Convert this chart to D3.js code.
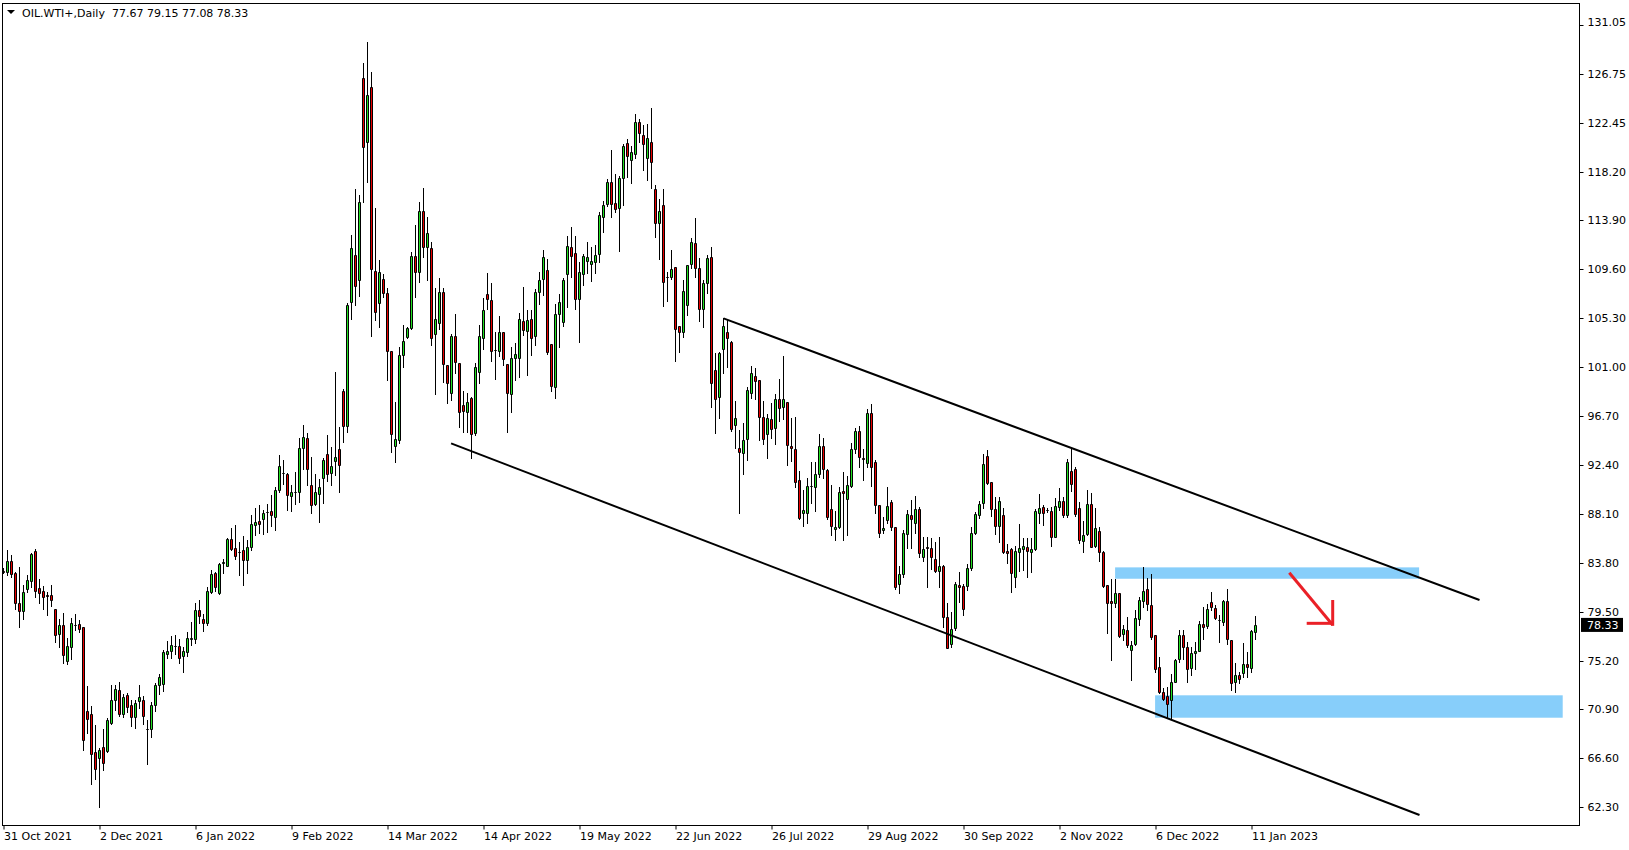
<!DOCTYPE html>
<html><head><meta charset="utf-8">
<script src="https://cdn.jsdelivr.net/npm/d3@7"></script>
<style>
html,body{margin:0;padding:0;background:#fff;overflow:hidden}
svg{display:block}
text{font-family:"DejaVu Sans",sans-serif;font-size:11px;fill:#000}
</style></head><body>
<svg id="chart" width="1629" height="850"></svg>
<script>
const headerText = "OIL.WTI+,Daily  77.67 79.15 77.08 78.33";

const openP = [83.06,82.95,83.91,82.89,80.25,79.58,81.51,82.16,84.79,81.54,
81.28,80.92,80.92,79.69,77.55,78.32,75.18,76.35,78.35,78.37,
78.11,70.75,70.49,67.15,66.65,67.56,67.26,69.73,71.75,72.60,
70.52,72.16,71.28,70.20,71.60,71.69,69.20,69.14,71.25,73.01,
73.10,75.79,76.00,76.44,76.44,75.62,75.91,77.11,77.06,79.61,
78.81,78.46,81.25,82.89,81.16,83.77,83.53,85.85,85.06,84.76,
84.88,84.06,85.14,87.14,87.43,87.67,88.25,88.31,87.84,90.22,
91.71,91.56,89.69,90.04,90.04,93.85,94.73,90.60,88.95,89.86,
91.27,93.32,91.71,92.71,93.76,98.89,95.85,106.75,110.82,108.63,
126.39,120.82,125.60,109.45,106.60,108.74,107.48,102.38,94.09,94.61,
102.03,103.61,104.40,110.74,109.39,114.72,111.59,111.44,103.88,104.90,
107.57,101.18,98.69,103.73,101.39,97.66,97.08,98.25,95.23,100.59,
103.53,107.39,106.90,102.53,102.39,104.06,101.25,98.61,101.83,101.77,
105.06,104.20,105.20,103.77,107.64,108.78,109.51,103.03,99.28,105.64,
104.98,109.22,111.56,111.01,107.02,109.16,110.36,110.04,110.27,110.92,
114.17,115.37,117.31,115.40,114.96,117.60,120.68,119.18,119.74,122.53,
121.38,119.36,120.77,116.63,113.64,115.23,108.95,108.95,109.77,104.61,
104.05,106.43,110.03,111.88,109.71,106.08,108.36,110.65,100.74,98.40,
102.56,104.11,103.20,95.87,93.88,93.41,94.67,98.75,100.21,99.86,
96.58,95.08,96.46,95.67,98.16,97.46,97.96,94.09,93.76,91.07,
88.14,88.14,90.57,90.48,91.57,94.03,91.95,88.49,86.73,86.96,
90.10,89.40,90.57,93.79,95.41,92.97,92.53,96.93,92.62,88.87,
86.68,87.56,89.11,86.91,81.90,82.78,86.29,87.97,87.26,88.49,
84.33,85.15,85.06,84.13,83.07,83.51,79.05,76.65,78.09,81.84,
81.75,81.75,83.31,86.38,87.99,89.02,93.18,90.87,88.52,87.06,
87.99,84.83,85.01,82.57,84.77,85.01,85.18,84.77,84.98,88.20,
88.67,88.44,88.35,86.09,88.67,89.23,87.99,91.89,92.01,88.58,
85.71,86.32,88.93,85.30,86.59,84.71,81.81,80.43,80.22,81.16,
77.52,77.88,76.12,76.62,78.81,80.46,81.45,80.04,77.44,74.59,
72.39,72.07,71.72,73.33,75.30,77.44,76.41,74.56,75.82,76.06,
78.40,78.23,80.37,79.81,78.76,78.61,80.43,76.99,73.33,73.92,
74.07,74.89,74.50,77.67];

const highP = [83.30,84.91,84.47,82.95,83.39,81.80,82.71,84.62,85.00,82.33,
81.75,81.22,81.80,79.72,78.84,79.34,77.14,78.90,79.28,78.76,
78.17,72.95,71.19,69.49,67.53,69.14,70.11,73.01,73.07,73.30,
72.28,72.36,71.72,71.72,73.04,72.07,69.96,71.51,73.19,73.98,
76.12,76.94,77.32,77.41,77.08,76.41,77.70,78.61,80.28,80.51,
79.28,81.66,83.15,82.98,83.80,84.09,85.94,86.82,87.11,85.58,
86.14,85.76,87.99,88.60,88.84,88.43,88.93,89.72,90.48,93.24,
92.80,91.68,90.60,91.74,94.73,95.87,95.20,93.06,91.59,91.15,
93.00,95.00,93.94,100.59,95.76,99.04,106.60,112.61,116.66,116.13,
127.74,129.59,126.95,114.96,110.41,109.15,107.92,102.38,97.96,102.79,
104.70,104.55,111.15,113.49,115.49,116.75,114.17,111.97,107.92,108.80,
107.92,101.18,103.91,105.64,101.39,98.89,98.69,98.40,101.39,104.70,
107.04,109.24,108.36,104.11,105.49,104.06,101.25,102.80,103.09,105.73,
108.08,106.02,106.02,107.84,109.39,111.30,110.51,103.03,106.55,107.40,
108.81,112.53,113.35,112.53,110.27,110.95,112.00,111.59,111.74,114.67,
115.64,117.51,120.09,117.98,117.81,120.62,121.03,120.45,123.26,122.79,
122.29,122.38,123.76,117.02,115.81,116.66,109.39,111.30,109.77,104.61,
108.65,109.97,112.38,114.08,110.56,108.65,110.85,111.53,102.21,102.35,
105.28,105.14,103.32,98.01,95.46,96.11,99.28,101.12,100.89,99.86,
98.04,96.84,97.87,98.60,99.92,102.00,97.96,96.49,96.64,91.89,
90.19,91.21,92.68,92.68,95.08,94.73,92.00,90.63,88.37,90.42,
91.80,91.42,94.29,95.61,95.82,93.76,97.31,97.75,92.83,88.87,
87.85,90.43,89.31,86.91,83.51,86.68,88.43,89.31,89.67,88.73,
86.09,86.03,85.94,85.65,86.09,83.60,80.29,79.49,82.13,82.98,
81.93,83.69,86.97,88.29,89.26,93.36,93.71,90.93,89.61,89.61,
88.58,85.45,85.06,85.27,87.20,85.94,85.94,85.94,88.49,89.81,
88.87,88.58,88.67,89.52,90.34,89.61,92.89,93.86,92.19,89.17,
87.50,90.19,89.96,88.58,86.97,84.86,81.81,82.34,82.33,81.16,
78.32,78.99,76.94,79.63,80.81,83.39,82.42,82.77,77.44,75.47,
72.80,72.89,73.98,75.30,77.88,77.88,76.85,76.41,76.85,78.67,
79.93,80.13,81.25,80.07,79.19,80.51,81.45,76.99,74.94,74.21,
76.70,75.97,77.88,79.15];

const lowP = [82.86,82.71,82.51,79.69,78.17,78.87,81.25,81.69,80.81,80.22,
79.75,79.22,80.02,76.85,76.41,75.00,74.91,75.30,77.88,77.73,
67.32,68.79,64.36,64.80,62.34,65.56,67.15,69.58,70.84,70.34,
70.22,70.66,69.46,69.29,71.02,69.64,66.06,68.50,70.78,72.22,
72.54,75.38,75.38,75.74,74.94,74.21,75.62,76.56,76.70,78.52,
77.82,78.35,81.16,81.33,81.04,82.92,83.50,84.91,84.15,82.74,
81.86,82.92,84.91,86.20,86.43,86.35,86.49,87.05,86.70,90.01,
90.71,88.43,88.37,88.99,89.13,92.03,90.63,88.19,88.87,87.37,
89.04,91.01,90.63,91.51,90.01,94.44,95.32,105.20,106.46,107.28,
115.54,117.24,103.73,105.14,104.55,107.19,99.86,93.56,92.68,94.29,
100.98,103.53,104.32,107.13,108.45,110.65,108.66,102.94,98.60,104.32,
99.72,97.81,98.10,100.45,95.76,95.32,95.32,92.97,95.03,99.57,
102.59,106.08,101.56,99.92,101.98,101.19,95.32,97.08,99.87,100.16,
103.82,100.31,102.07,102.94,106.52,107.31,102.15,98.93,98.25,102.74,
104.62,106.32,108.96,106.11,103.24,108.19,109.25,108.60,109.31,110.27,
112.91,115.17,114.23,114.67,111.24,115.26,117.69,117.22,119.36,120.83,
118.33,117.45,116.72,112.41,110.48,106.40,106.84,108.75,101.57,102.35,
103.67,105.58,109.68,108.95,105.08,104.55,107.48,97.46,95.17,96.55,
100.45,100.97,95.38,93.85,88.19,91.59,92.83,98.25,98.16,94.58,
94.23,93.03,94.79,94.23,96.28,96.40,92.39,92.74,90.42,87.61,
87.02,87.26,89.01,88.37,91.36,91.21,87.61,86.23,85.79,86.82,
85.79,86.23,90.48,93.41,92.24,91.07,92.24,90.54,88.19,86.08,
86.38,87.26,86.68,81.46,81.17,82.57,85.06,85.06,86.38,84.27,
83.98,81.69,83.22,83.01,81.69,78.12,76.27,76.36,77.88,80.37,
79.17,81.40,83.16,86.32,87.70,88.58,90.69,87.91,86.32,85.65,
84.68,83.75,81.25,81.69,83.10,83.16,82.57,83.01,84.92,87.32,
87.12,88.29,85.30,86.03,88.44,87.85,87.85,90.11,87.91,85.50,
84.71,86.24,85.15,85.21,83.98,81.69,77.59,75.24,79.93,77.29,
77.00,76.41,73.48,76.53,78.32,79.93,79.63,77.08,74.21,72.36,
71.72,70.25,70.17,73.27,75.09,75.32,73.33,73.92,74.42,76.03,
77.06,78.02,79.63,78.84,76.79,78.32,76.64,72.60,72.45,73.19,
73.77,73.77,74.21,77.08];

const closeP = [83.00,83.91,82.83,80.22,79.58,81.19,82.24,84.56,81.28,81.16,
80.75,80.90,80.54,77.41,78.32,75.65,76.44,78.49,78.32,77.99,
68.17,70.02,66.94,65.62,67.29,66.15,69.96,71.69,72.66,70.52,
71.98,71.08,70.20,71.46,71.95,70.28,69.17,71.28,73.04,73.74,
75.91,76.00,76.53,76.47,75.38,76.03,77.14,77.14,79.61,79.08,
78.46,81.30,82.77,81.63,83.68,83.83,85.85,85.03,84.41,84.71,
84.06,85.14,87.17,87.34,87.23,88.13,88.22,88.02,90.16,92.27,
91.65,89.78,89.98,89.98,93.85,94.82,92.06,88.90,89.98,90.45,
92.80,91.62,92.27,93.09,92.36,95.85,106.43,111.44,108.10,115.48,
120.38,124.89,109.65,105.87,109.33,107.48,102.38,95.14,94.64,102.06,
103.32,104.40,110.74,109.39,114.72,111.59,112.76,103.53,105.20,107.57,
101.24,99.57,103.73,101.41,97.02,97.16,97.90,95.14,100.98,103.73,
106.02,107.01,102.44,102.50,104.06,101.68,98.70,101.77,102.12,105.20,
104.26,105.11,103.53,107.58,108.63,110.65,102.30,99.34,105.64,106.73,
108.66,111.65,110.74,106.96,109.36,110.74,110.65,110.30,110.86,114.35,
115.23,117.31,115.32,114.88,117.60,120.42,119.57,119.89,122.53,121.56,
120.59,121.12,119.07,113.64,114.73,108.51,108.92,109.66,104.38,104.05,
107.69,109.97,112.00,109.74,106.08,108.39,110.56,99.57,98.16,102.21,
104.61,103.52,95.58,96.49,93.56,94.58,98.98,100.45,99.80,96.58,
94.64,96.49,95.52,98.16,97.37,98.16,94.12,93.85,90.92,87.75,
88.43,90.54,90.54,91.57,94.03,92.00,87.84,87.05,86.90,89.98,
89.89,90.60,93.79,95.41,93.06,92.94,96.93,92.24,88.87,86.38,
86.82,88.82,86.91,81.63,82.78,86.38,88.05,87.61,88.49,84.62,
84.98,85.12,84.27,83.07,83.51,78.99,76.27,77.94,81.90,81.63,
79.70,83.31,86.38,88.05,88.93,92.48,90.84,88.52,87.06,89.23,
84.77,84.68,82.87,84.86,85.12,85.27,84.86,85.01,88.35,88.58,
88.20,88.41,86.09,88.79,89.23,87.99,92.63,90.69,88.08,85.80,
86.24,88.93,85.21,86.82,84.71,81.78,80.23,80.23,81.16,77.38,
77.96,76.56,76.53,78.90,80.51,81.33,80.13,77.29,74.42,72.45,
71.78,71.34,73.27,75.24,77.44,76.35,74.42,75.82,76.03,78.40,
78.17,79.72,79.87,78.90,78.73,80.46,77.11,73.19,73.92,73.60,
74.86,74.65,77.79,78.33];

const dateLabels = ["31 Oct 2021","2 Dec 2021","6 Jan 2022","9 Feb 2022","14 Mar 2022","14 Apr 2022",
  "19 May 2022","22 Jun 2022","26 Jul 2022","29 Aug 2022","30 Sep 2022","2 Nov 2022","6 Dec 2022","11 Jan 2023"];
const dateLabelBars = [0,24,48,72,96,120,144,168,192,216,240,264,288,312];
const priceTicks = [131.05,126.75,122.45,118.20,113.90,109.60,105.30,101.00,96.70,92.40,88.10,83.80,79.50,75.20,70.90,66.60,62.30];

// annotations: [bar index, price]
const channelUpper = [[180, 105.29], [369, 80.52]];
const channelLower = [[111.9, 94.29], [354, 61.61]];
const zoneUpper = {from: 277.9, to: 353.9, lo: 82.39, hi: 83.39};
const zoneLower = {from: 287.9, to: 389.8, lo: 70.17, hi: 72.14};
const arrowShaft = [[321.45, 82.92], [332.3, 78.32]];
const arrowHeadV = [[332.3, 80.52], [332.3, 78.25]];
const arrowHeadH = [[325.8, 78.47], [332.45, 78.47]];

const svg = d3.select("#chart");
const plotL = 2.5, plotR = 1579.5, plotT = 3.5, plotB = 825.5;

const x = d3.scaleLinear().domain([0, 313]).range([3.5, 1255.5]);
const y = d3.scaleLinear().domain([62.30, 131.05]).range([807.2, 25.4]);
const py = v => Math.round(y(v)) + 0.5;

svg.append("defs").append("clipPath").attr("id","plotclip")
  .append("rect").attr("x", plotL+0.5).attr("y", plotT+0.5)
  .attr("width", plotR-plotL-1).attr("height", plotB-plotT-1);

const plot = svg.append("g").attr("clip-path","url(#plotclip)");

// zones
[zoneUpper, zoneLower].forEach(z => {
  plot.append("rect")
    .attr("x", x(z.from)).attr("y", y(z.hi))
    .attr("width", x(z.to) - x(z.from)).attr("height", y(z.lo) - y(z.hi))
    .attr("fill", "#87cefa");
});

// candles
const bars = d3.range(openP.length).map(i => ({i, o: openP[i], h: highP[i], l: lowP[i], c: closeP[i]}));
const cg = plot.append("g");
cg.selectAll("line.wick").data(bars).join("line")
  .attr("class","wick")
  .attr("x1", d => x(d.i)).attr("x2", d => x(d.i))
  .attr("y1", d => Math.round(y(d.h))).attr("y2", d => Math.round(y(d.l)) + 1)
  .attr("stroke", "#000").attr("stroke-width", 1);
cg.selectAll("path.body").data(bars).join("path")
  .attr("class","body")
  .attr("d", d => {
    const t = py(Math.max(d.o, d.c)), b = py(Math.min(d.o, d.c));
    const cx = x(d.i);
    return `M${cx-1},${t}H${cx+1}V${b}H${cx-1}Z`;
  })
  .attr("fill", d => d.c >= d.o ? "#22e022" : "#e80000")
  .attr("stroke", "#000").attr("stroke-width", 1);

// channel lines
const line = d3.line().x(d => x(d[0])).y(d => y(d[1]));
[channelUpper, channelLower].forEach(l => {
  plot.append("path").attr("d", line(l)).attr("fill","none")
    .attr("stroke","#000").attr("stroke-width", 2);
});

// red arrow
[arrowShaft, arrowHeadV, arrowHeadH].forEach(l => {
  plot.append("path").attr("d", line(l)).attr("fill","none")
    .attr("stroke","#ea2027").attr("stroke-width", 3);
});

// border
svg.append("rect").attr("x", plotL).attr("y", plotT)
  .attr("width", plotR - plotL).attr("height", plotB - plotT)
  .attr("fill","none").attr("stroke","#000").attr("stroke-width",1);

// right axis
const ya = svg.append("g").attr("transform", `translate(${plotR},0)`)
  .call(d3.axisRight(y).tickValues(priceTicks).tickSize(4).tickPadding(4).tickFormat(d => d.toFixed(2)));
ya.select(".domain").remove();
ya.selectAll(".tick").attr("transform", d => `translate(0,${py(d)})`);
ya.selectAll(".tick line").attr("stroke","#000");
ya.selectAll(".tick text").attr("fill","#000").style("font-family","DejaVu Sans").style("font-size","11px")
  .attr("y", d => d === priceTicks[0] ? -3 : 0);

// bottom axis
const xa = svg.append("g").attr("transform", `translate(0,${plotB})`)
  .call(d3.axisBottom(x).tickValues(dateLabelBars).tickSize(4).tickPadding(3)
    .tickFormat((d, k) => dateLabels[k]));
xa.select(".domain").remove();
xa.selectAll(".tick line").attr("stroke","#000");
xa.selectAll(".tick text").attr("text-anchor","start").attr("x", 0).attr("fill","#000")
  .style("font-family","DejaVu Sans").style("font-size","11px");

// last price label
const last = closeP[closeP.length - 1];
const ly = y(last);
svg.append("rect").attr("x", 1581).attr("y", ly - 7).attr("width", 42).attr("height", 14).attr("fill","#000");
svg.append("text").attr("x", 1587).attr("y", ly).attr("dy","0.36em").attr("fill","#fff")
  .style("fill","#fff").text(last.toFixed(2));

// header
svg.append("path").attr("d","M7,10H15L11,14Z").attr("fill","#000");
svg.append("text").attr("x", 22).attr("y", 17).attr("xml:space","preserve")
  .style("white-space","pre").text(headerText);
</script>
</body></html>
